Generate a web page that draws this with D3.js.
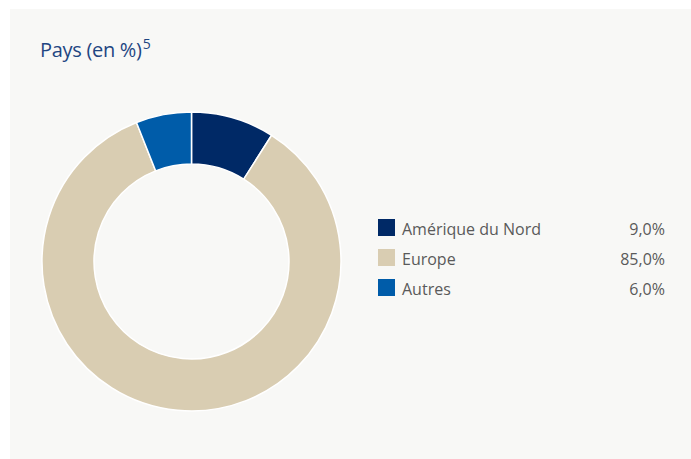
<!DOCTYPE html>
<html>
<head>
<meta charset="utf-8">
<script src="https://cdn.jsdelivr.net/npm/d3@7"></script>
<style>
  body { margin: 0; background: #ffffff; }
  svg { display: block; font-family: "Open Sans", "Noto Sans", sans-serif; }
</style>
</head>
<body>
<div id="chart"></div>
<script>
// data
const regions = ["Amérique du Nord", "Europe", "Autres"];
const shares = [9.0, 85.0, 6.0];
const colors = ["#002966", "#d9cdb2", "#005ca9"];

const width = 691, height = 459;

const svg = d3.select("#chart").append("svg")
  .attr("width", width)
  .attr("height", height);

// light panel
svg.append("rect")
  .attr("x", 10).attr("y", 9)
  .attr("width", width - 10).attr("height", height - 9)
  .attr("fill", "#f8f8f6");

// title
const title = svg.append("text")
  .attr("x", 40).attr("y", 57)
  .attr("fill", "#1f4682")
  .style("font-size", "20px")
  .style("letter-spacing", "-0.3px");
title.append("tspan").text("Pays (en %)");
title.append("tspan").attr("dy", -8).attr("dx", 1).style("font-size", "14px").text("5");

// donut
const data = regions.map((r, i) => ({ name: r, value: shares[i], color: colors[i] }));
const pie = d3.pie().sort(null).value(d => d.value);
const arc = d3.arc().innerRadius(97.5).outerRadius(149.5);

const g = svg.append("g").attr("transform", "translate(191.5,261.5)");
g.selectAll("path")
  .data(pie(data))
  .enter()
  .append("path")
  .attr("d", arc)
  .attr("fill", d => d.data.color)
  .attr("stroke", "#ffffff")
  .attr("stroke-width", 1.5);

// legend
const rowY = d3.scaleBand().domain(regions).range([219, 309]);
const fmt = v => d3.format(".1f")(v).replace(".", ",") + "%";

const legend = svg.append("g");
const rows = legend.selectAll("g")
  .data(data)
  .enter()
  .append("g")
  .attr("transform", d => `translate(0,${rowY(d.name)})`);

rows.append("rect")
  .attr("x", 378).attr("y", 0)
  .attr("width", 17).attr("height", 17)
  .attr("fill", d => d.color);

rows.append("text")
  .attr("x", 402).attr("y", 16)
  .attr("fill", "#5a5a5a")
  .style("font-size", "16px")
  .text(d => d.name);

rows.append("text")
  .attr("x", 665).attr("y", 16)
  .attr("text-anchor", "end")
  .attr("fill", "#5a5a5a")
  .style("font-size", "16px")
  .text(d => fmt(d.value));
</script>
</body>
</html>
